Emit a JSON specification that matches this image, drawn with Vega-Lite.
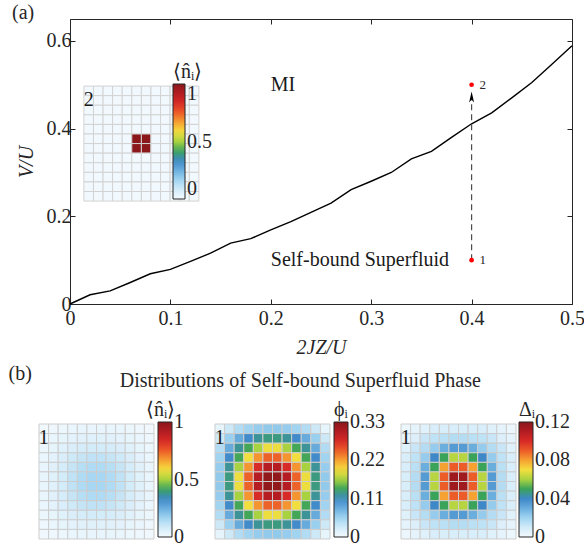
{
"$schema": "https://vega.github.io/schema/vega-lite/v6.json",
"background": "white",
"padding": {"left": 8, "top": 2, "right": 0, "bottom": 4},
"spacing": 7,
"config": {
  "font": "Liberation Serif",
  "view": {"stroke": null},
  "axis": {"labelFont": "Liberation Serif", "titleFont": "Liberation Serif", "labelFontSize": 20, "titleFontSize": 20, "titleFontWeight": "normal", "titleFontStyle": "italic", "labelColor": "#262626", "titleColor": "#262626", "domainColor": "#262626", "tickColor": "#262626", "grid": false, "domainWidth": 1, "tickWidth": 1, "labelFlush": false},
  "legend": {"labelFont": "Liberation Serif", "labelFontSize": 20, "labelColor": "#262626", "titleFont": "Liberation Serif", "titleFontSize": 20, "titleFontWeight": "normal", "titleColor": "#262626", "gradientStrokeColor": "#262626", "gradientStrokeWidth": 1, "labelOffset": 3, "titlePadding": 2, "labelLimit": 300},
  "title": {"font": "Liberation Serif", "fontSize": 20, "fontWeight": "normal", "color": "#262626"}
},
"datasets": {
  "line": [
    {"x":0,"y":0},{"x":0.02,"y":0.021},{"x":0.04,"y":0.03},{"x":0.06,"y":0.049},{"x":0.08,"y":0.069},{"x":0.1,"y":0.079},{"x":0.12,"y":0.097},{"x":0.14,"y":0.116},{"x":0.16,"y":0.139},{"x":0.18,"y":0.149},{"x":0.2,"y":0.169},{"x":0.22,"y":0.188},{"x":0.24,"y":0.209},{"x":0.26,"y":0.23},{"x":0.28,"y":0.261},{"x":0.3,"y":0.28},{"x":0.32,"y":0.3},{"x":0.34,"y":0.331},{"x":0.36,"y":0.348},{"x":0.38,"y":0.38},{"x":0.4,"y":0.411},{"x":0.42,"y":0.436},{"x":0.44,"y":0.47},{"x":0.46,"y":0.505},{"x":0.48,"y":0.547},{"x":0.5,"y":0.589}
  ],
  "pts": [{"x":0.4,"y":0.1,"t":"1"},{"x":0.4,"y":0.5,"t":"2"}],
  "arrow": [{"x":0.4,"y":0.1,"y2":0.474,"yh":0.472}],
  "regions": [{"x":0.2,"y":0.5,"t":"MI"},{"x":0.2,"y":0.1,"t":"Self-bound Superfluid"}],
  "empty": [],
  "grid": [
{"r":0,"c":0,"a":0,"n":0.005,"p":0.01,"d":0.002},{"r":0,"c":1,"a":0,"n":0.01,"p":0.03,"d":0.004},{"r":0,"c":2,"a":0,"n":0.015,"p":0.045,"d":0.006},{"r":0,"c":3,"a":0,"n":0.02,"p":0.055,"d":0.008},{"r":0,"c":4,"a":0,"n":0.025,"p":0.06,"d":0.008},{"r":0,"c":5,"a":0,"n":0.025,"p":0.062,"d":0.008},{"r":0,"c":6,"a":0,"n":0.025,"p":0.062,"d":0.008},{"r":0,"c":7,"a":0,"n":0.025,"p":0.06,"d":0.008},{"r":0,"c":8,"a":0,"n":0.02,"p":0.055,"d":0.008},{"r":0,"c":9,"a":0,"n":0.015,"p":0.045,"d":0.006},{"r":0,"c":10,"a":0,"n":0.01,"p":0.03,"d":0.004},{"r":0,"c":11,"a":0,"n":0.005,"p":0.01,"d":0.002},
{"r":1,"c":0,"a":0,"n":0.01,"p":0.03,"d":0.004},{"r":1,"c":1,"a":0,"n":0.02,"p":0.058,"d":0.007},{"r":1,"c":2,"a":0,"n":0.03,"p":0.085,"d":0.012},{"r":1,"c":3,"a":0,"n":0.04,"p":0.108,"d":0.014},{"r":1,"c":4,"a":0,"n":0.045,"p":0.122,"d":0.015},{"r":1,"c":5,"a":0,"n":0.05,"p":0.128,"d":0.016},{"r":1,"c":6,"a":0,"n":0.05,"p":0.128,"d":0.016},{"r":1,"c":7,"a":0,"n":0.045,"p":0.122,"d":0.015},{"r":1,"c":8,"a":0,"n":0.04,"p":0.108,"d":0.014},{"r":1,"c":9,"a":0,"n":0.03,"p":0.085,"d":0.012},{"r":1,"c":10,"a":0,"n":0.02,"p":0.058,"d":0.007},{"r":1,"c":11,"a":0,"n":0.01,"p":0.03,"d":0.004},
{"r":2,"c":0,"a":0,"n":0.015,"p":0.045,"d":0.006},{"r":2,"c":1,"a":0,"n":0.03,"p":0.085,"d":0.012},{"r":2,"c":2,"a":0,"n":0.05,"p":0.122,"d":0.016},{"r":2,"c":3,"a":0,"n":0.065,"p":0.14,"d":0.022},{"r":2,"c":4,"a":0,"n":0.075,"p":0.165,"d":0.03},{"r":2,"c":5,"a":0,"n":0.08,"p":0.19,"d":0.035},{"r":2,"c":6,"a":0,"n":0.08,"p":0.19,"d":0.035},{"r":2,"c":7,"a":0,"n":0.075,"p":0.165,"d":0.03},{"r":2,"c":8,"a":0,"n":0.065,"p":0.14,"d":0.022},{"r":2,"c":9,"a":0,"n":0.05,"p":0.122,"d":0.016},{"r":2,"c":10,"a":0,"n":0.03,"p":0.085,"d":0.012},{"r":2,"c":11,"a":0,"n":0.015,"p":0.045,"d":0.006},
{"r":3,"c":0,"a":0,"n":0.02,"p":0.055,"d":0.008},{"r":3,"c":1,"a":0,"n":0.04,"p":0.108,"d":0.014},{"r":3,"c":2,"a":0,"n":0.065,"p":0.14,"d":0.022},{"r":3,"c":3,"a":0,"n":0.09,"p":0.192,"d":0.04},{"r":3,"c":4,"a":0,"n":0.105,"p":0.225,"d":0.05},{"r":3,"c":5,"a":0,"n":0.115,"p":0.245,"d":0.062},{"r":3,"c":6,"a":0,"n":0.115,"p":0.245,"d":0.062},{"r":3,"c":7,"a":0,"n":0.105,"p":0.225,"d":0.05},{"r":3,"c":8,"a":0,"n":0.09,"p":0.192,"d":0.04},{"r":3,"c":9,"a":0,"n":0.065,"p":0.14,"d":0.022},{"r":3,"c":10,"a":0,"n":0.04,"p":0.108,"d":0.014},{"r":3,"c":11,"a":0,"n":0.02,"p":0.055,"d":0.008},
{"r":4,"c":0,"a":0,"n":0.025,"p":0.06,"d":0.008},{"r":4,"c":1,"a":0,"n":0.045,"p":0.122,"d":0.015},{"r":4,"c":2,"a":0,"n":0.075,"p":0.165,"d":0.03},{"r":4,"c":3,"a":0,"n":0.105,"p":0.225,"d":0.05},{"r":4,"c":4,"a":0,"n":0.13,"p":0.275,"d":0.08},{"r":4,"c":5,"a":0,"n":0.14,"p":0.3,"d":0.09},{"r":4,"c":6,"a":0,"n":0.14,"p":0.3,"d":0.09},{"r":4,"c":7,"a":0,"n":0.13,"p":0.275,"d":0.08},{"r":4,"c":8,"a":0,"n":0.105,"p":0.225,"d":0.05},{"r":4,"c":9,"a":0,"n":0.075,"p":0.165,"d":0.03},{"r":4,"c":10,"a":0,"n":0.045,"p":0.122,"d":0.015},{"r":4,"c":11,"a":0,"n":0.025,"p":0.06,"d":0.008},
{"r":5,"c":0,"a":0,"n":0.025,"p":0.062,"d":0.008},{"r":5,"c":1,"a":0,"n":0.05,"p":0.128,"d":0.016},{"r":5,"c":2,"a":0,"n":0.08,"p":0.19,"d":0.035},{"r":5,"c":3,"a":0,"n":0.115,"p":0.245,"d":0.062},{"r":5,"c":4,"a":0,"n":0.14,"p":0.3,"d":0.09},{"r":5,"c":5,"a":1,"n":0.155,"p":0.325,"d":0.115},{"r":5,"c":6,"a":1,"n":0.155,"p":0.325,"d":0.115},{"r":5,"c":7,"a":0,"n":0.14,"p":0.3,"d":0.09},{"r":5,"c":8,"a":0,"n":0.115,"p":0.245,"d":0.062},{"r":5,"c":9,"a":0,"n":0.08,"p":0.19,"d":0.035},{"r":5,"c":10,"a":0,"n":0.05,"p":0.128,"d":0.016},{"r":5,"c":11,"a":0,"n":0.025,"p":0.062,"d":0.008},
{"r":6,"c":0,"a":0,"n":0.025,"p":0.062,"d":0.008},{"r":6,"c":1,"a":0,"n":0.05,"p":0.128,"d":0.016},{"r":6,"c":2,"a":0,"n":0.08,"p":0.19,"d":0.035},{"r":6,"c":3,"a":0,"n":0.115,"p":0.245,"d":0.062},{"r":6,"c":4,"a":0,"n":0.14,"p":0.3,"d":0.09},{"r":6,"c":5,"a":1,"n":0.155,"p":0.325,"d":0.115},{"r":6,"c":6,"a":1,"n":0.155,"p":0.325,"d":0.115},{"r":6,"c":7,"a":0,"n":0.14,"p":0.3,"d":0.09},{"r":6,"c":8,"a":0,"n":0.115,"p":0.245,"d":0.062},{"r":6,"c":9,"a":0,"n":0.08,"p":0.19,"d":0.035},{"r":6,"c":10,"a":0,"n":0.05,"p":0.128,"d":0.016},{"r":6,"c":11,"a":0,"n":0.025,"p":0.062,"d":0.008},
{"r":7,"c":0,"a":0,"n":0.025,"p":0.06,"d":0.008},{"r":7,"c":1,"a":0,"n":0.045,"p":0.122,"d":0.015},{"r":7,"c":2,"a":0,"n":0.075,"p":0.165,"d":0.03},{"r":7,"c":3,"a":0,"n":0.105,"p":0.225,"d":0.05},{"r":7,"c":4,"a":0,"n":0.13,"p":0.275,"d":0.08},{"r":7,"c":5,"a":0,"n":0.14,"p":0.3,"d":0.09},{"r":7,"c":6,"a":0,"n":0.14,"p":0.3,"d":0.09},{"r":7,"c":7,"a":0,"n":0.13,"p":0.275,"d":0.08},{"r":7,"c":8,"a":0,"n":0.105,"p":0.225,"d":0.05},{"r":7,"c":9,"a":0,"n":0.075,"p":0.165,"d":0.03},{"r":7,"c":10,"a":0,"n":0.045,"p":0.122,"d":0.015},{"r":7,"c":11,"a":0,"n":0.025,"p":0.06,"d":0.008},
{"r":8,"c":0,"a":0,"n":0.02,"p":0.055,"d":0.008},{"r":8,"c":1,"a":0,"n":0.04,"p":0.108,"d":0.014},{"r":8,"c":2,"a":0,"n":0.065,"p":0.14,"d":0.022},{"r":8,"c":3,"a":0,"n":0.09,"p":0.192,"d":0.04},{"r":8,"c":4,"a":0,"n":0.105,"p":0.225,"d":0.05},{"r":8,"c":5,"a":0,"n":0.115,"p":0.245,"d":0.062},{"r":8,"c":6,"a":0,"n":0.115,"p":0.245,"d":0.062},{"r":8,"c":7,"a":0,"n":0.105,"p":0.225,"d":0.05},{"r":8,"c":8,"a":0,"n":0.09,"p":0.192,"d":0.04},{"r":8,"c":9,"a":0,"n":0.065,"p":0.14,"d":0.022},{"r":8,"c":10,"a":0,"n":0.04,"p":0.108,"d":0.014},{"r":8,"c":11,"a":0,"n":0.02,"p":0.055,"d":0.008},
{"r":9,"c":0,"a":0,"n":0.015,"p":0.045,"d":0.006},{"r":9,"c":1,"a":0,"n":0.03,"p":0.085,"d":0.012},{"r":9,"c":2,"a":0,"n":0.05,"p":0.122,"d":0.016},{"r":9,"c":3,"a":0,"n":0.065,"p":0.14,"d":0.022},{"r":9,"c":4,"a":0,"n":0.075,"p":0.165,"d":0.03},{"r":9,"c":5,"a":0,"n":0.08,"p":0.19,"d":0.035},{"r":9,"c":6,"a":0,"n":0.08,"p":0.19,"d":0.035},{"r":9,"c":7,"a":0,"n":0.075,"p":0.165,"d":0.03},{"r":9,"c":8,"a":0,"n":0.065,"p":0.14,"d":0.022},{"r":9,"c":9,"a":0,"n":0.05,"p":0.122,"d":0.016},{"r":9,"c":10,"a":0,"n":0.03,"p":0.085,"d":0.012},{"r":9,"c":11,"a":0,"n":0.015,"p":0.045,"d":0.006},
{"r":10,"c":0,"a":0,"n":0.01,"p":0.03,"d":0.004},{"r":10,"c":1,"a":0,"n":0.02,"p":0.058,"d":0.007},{"r":10,"c":2,"a":0,"n":0.03,"p":0.085,"d":0.012},{"r":10,"c":3,"a":0,"n":0.04,"p":0.108,"d":0.014},{"r":10,"c":4,"a":0,"n":0.045,"p":0.122,"d":0.015},{"r":10,"c":5,"a":0,"n":0.05,"p":0.128,"d":0.016},{"r":10,"c":6,"a":0,"n":0.05,"p":0.128,"d":0.016},{"r":10,"c":7,"a":0,"n":0.045,"p":0.122,"d":0.015},{"r":10,"c":8,"a":0,"n":0.04,"p":0.108,"d":0.014},{"r":10,"c":9,"a":0,"n":0.03,"p":0.085,"d":0.012},{"r":10,"c":10,"a":0,"n":0.02,"p":0.058,"d":0.007},{"r":10,"c":11,"a":0,"n":0.01,"p":0.03,"d":0.004},
{"r":11,"c":0,"a":0,"n":0.005,"p":0.01,"d":0.002},{"r":11,"c":1,"a":0,"n":0.01,"p":0.03,"d":0.004},{"r":11,"c":2,"a":0,"n":0.015,"p":0.045,"d":0.006},{"r":11,"c":3,"a":0,"n":0.02,"p":0.055,"d":0.008},{"r":11,"c":4,"a":0,"n":0.025,"p":0.06,"d":0.008},{"r":11,"c":5,"a":0,"n":0.025,"p":0.062,"d":0.008},{"r":11,"c":6,"a":0,"n":0.025,"p":0.062,"d":0.008},{"r":11,"c":7,"a":0,"n":0.025,"p":0.06,"d":0.008},{"r":11,"c":8,"a":0,"n":0.02,"p":0.055,"d":0.008},{"r":11,"c":9,"a":0,"n":0.015,"p":0.045,"d":0.006},{"r":11,"c":10,"a":0,"n":0.01,"p":0.03,"d":0.004},{"r":11,"c":11,"a":0,"n":0.005,"p":0.01,"d":0.002}
  ],
  "tag1": [{"c":0,"r":1,"t":"1"}],
  "tag2": [{"c":0,"r":1,"t":"2"}]
},
"vconcat": [
  {
    "bounds": "flush",
    "spacing": 30,
    "hconcat": [
      {"width": 1, "height": 1, "data": {"name": "empty"}, "mark": "point", "encoding": {}},
      {
        "title": {"text": "(a)", "anchor": "start", "frame": "bounds", "dx": -4, "offset": -4},
        "width": 502,
        "height": 285,
        "layer": [
          {"data": {"name": "line"}, "mark": {"type": "line", "color": "black", "strokeWidth": 1.4},
           "encoding": {
             "x": {"field": "x", "type": "quantitative", "scale": {"domain": [0, 0.5], "nice": false}, "axis": {"values": [0, 0.1, 0.2, 0.3, 0.4, 0.5], "format": "~g", "title": "2JZ/U", "tickSize": -5, "labelPadding": 9, "titlePadding": 9}},
             "y": {"field": "y", "type": "quantitative", "scale": {"domain": [0, 0.65], "nice": false}, "axis": {"values": [0, 0.2, 0.4, 0.6], "format": "~g", "title": "V/U", "tickSize": -5, "labelPadding": 4, "titlePadding": 10}}
           }},
          {"data": {"name": "line"}, "mark": {"type": "line", "opacity": 0},
           "encoding": {
             "x": {"field": "x", "type": "quantitative", "scale": {"domain": [0, 0.5], "nice": false}, "axis": {"orient": "top", "labels": false, "title": null, "values": [0, 0.1, 0.2, 0.3, 0.4, 0.5], "tickSize": -5}},
             "y": {"field": "y", "type": "quantitative", "scale": {"domain": [0, 0.65], "nice": false}, "axis": {"orient": "right", "labels": false, "title": null, "values": [0, 0.2, 0.4, 0.6], "tickSize": -5}}
           }},
          {"data": {"name": "arrow"}, "mark": {"type": "rule", "color": "#4d4d4d", "strokeWidth": 1.2, "strokeDash": [6, 4]},
           "encoding": {
             "x": {"field": "x", "type": "quantitative", "scale": {"domain": [0, 0.5], "nice": false}, "axis": null},
             "y": {"field": "y", "type": "quantitative", "scale": {"domain": [0, 0.65], "nice": false}, "axis": null},
             "y2": {"field": "y2"}
           }},
          {"data": {"name": "arrow"}, "mark": {"type": "point", "shape": "M0,-1L0.45,1L0,0.5L-0.45,1Z", "filled": true, "color": "black", "size": 121, "opacity": 1},
           "encoding": {
             "x": {"field": "x", "type": "quantitative", "scale": {"domain": [0, 0.5], "nice": false}, "axis": null},
             "y": {"field": "yh", "type": "quantitative", "scale": {"domain": [0, 0.65], "nice": false}, "axis": null}
           }},
          {"data": {"name": "pts"}, "mark": {"type": "point", "shape": "circle", "filled": true, "color": "#ff0000", "size": 22, "opacity": 1},
           "encoding": {
             "x": {"field": "x", "type": "quantitative", "scale": {"domain": [0, 0.5], "nice": false}, "axis": null},
             "y": {"field": "y", "type": "quantitative", "scale": {"domain": [0, 0.65], "nice": false}, "axis": null}
           }},
          {"data": {"name": "pts"}, "mark": {"type": "text", "align": "left", "baseline": "middle", "dx": 8, "fontSize": 13, "color": "#262626"},
           "encoding": {
             "x": {"field": "x", "type": "quantitative", "scale": {"domain": [0, 0.5], "nice": false}, "axis": null},
             "y": {"field": "y", "type": "quantitative", "scale": {"domain": [0, 0.65], "nice": false}, "axis": null},
             "text": {"field": "t"}
           }},
          {"data": {"name": "regions"}, "mark": {"type": "text", "align": "left", "baseline": "middle", "fontSize": 20, "color": "#1a1a1a"},
           "encoding": {
             "x": {"field": "x", "type": "quantitative", "scale": {"domain": [0, 0.5], "nice": false}, "axis": null},
             "y": {"field": "y", "type": "quantitative", "scale": {"domain": [0, 0.65], "nice": false}, "axis": null},
             "text": {"field": "t"}
           }},
          {"data": {"name": "grid"}, "mark": {"type": "point", "shape": "square", "filled": true, "size": 92, "stroke": "#d2d2d2", "strokeWidth": 1, "opacity": 1},
           "encoding": {
             "x": {"field": "c", "type": "quantitative", "axis": null, "scale": {"domain": [-1.95, 50.44], "nice": false, "zero": false}},
             "y": {"field": "r", "type": "quantitative", "axis": null, "scale": {"domain": [-7.5, 22.24], "nice": false, "zero": false, "reverse": true}},
             "color": {"field": "a", "type": "quantitative",
               "scale": {"domain": [0, 1], "interpolate": "rgb", "range": ["#f2f9fe","#d2ebf9","#a0d4f1","#6aaede","#3e88c8","#3aa35a","#a8d240","#f3df3e","#f6a232","#ec5c28","#d82a26","#b31c22","#8a181b"]},
               "legend": {"title": "⟨n̂ᵢ⟩", "orient": "none", "direction": "vertical", "legendX": 134, "legendY": 43, "gradientLength": 115, "gradientThickness": 12, "values": [0, 0.5, 1], "format": "~g", "titleAnchor": "start", "titleAlign": "left",
                 "encode": {"labels": {"update": {"baseline": {"value": "middle"}}}}}}
           }},
          {"data": {"name": "tag2"}, "mark": {"type": "text", "fontSize": 20, "align": "center", "baseline": "middle", "color": "#1a1a1a"},
           "encoding": {
             "x": {"field": "c", "type": "quantitative", "axis": null, "scale": {"domain": [-1.95, 50.44], "nice": false, "zero": false}},
             "y": {"field": "r", "type": "quantitative", "axis": null, "scale": {"domain": [-7.5, 22.24], "nice": false, "zero": false, "reverse": true}},
             "text": {"field": "t"}
           }}
        ],
        "resolve": {"scale": {"x": "independent", "y": "independent"}, "axis": {"x": "independent", "y": "independent"}}
      }
    ]
  },
  {
    "title": {"text": "(b)", "anchor": "start", "frame": "bounds", "dx": -30, "offset": -13},
    "vconcat": [
      {
        "title": {"text": "Distributions of Self-bound Superfluid Phase", "anchor": "middle", "offset": 9, "dx": -4},
        "spacing": 15,
        "hconcat": [
          {
            "width": 115, "height": 115,
            "layer": [
              {"data": {"name": "grid"}, "mark": {"type": "rect", "stroke": "#cdcdcd", "strokeWidth": 1},
               "encoding": {
                 "x": {"field": "c", "type": "ordinal", "axis": null, "scale": {"paddingInner": 0, "paddingOuter": 0}},
                 "y": {"field": "r", "type": "ordinal", "axis": null, "scale": {"paddingInner": 0, "paddingOuter": 0}},
                 "color": {"field": "n", "type": "quantitative",
                   "scale": {"domain": [0, 1], "interpolate": "rgb", "range": ["#f2f9fe","#d2ebf9","#a0d4f1","#6aaede","#3e88c8","#3aa35a","#a8d240","#f3df3e","#f6a232","#ec5c28","#d82a26","#b31c22","#8a181b"]},
                   "legend": {"title": "⟨n̂ᵢ⟩", "orient": "none", "direction": "vertical", "legendX": 107, "legendY": -24, "gradientLength": 115, "gradientThickness": 14, "values": [0, 0.5, 1], "format": "~g", "titleAnchor": "start", "titleAlign": "left",
                     "encode": {"labels": {"update": {"baseline": {"value": "middle"}}}, "title": {"update": {"dx": {"value": -12}}}}}}
               }},
              {"data": {"name": "tag1"}, "mark": {"type": "text", "fontSize": 20, "align": "center", "baseline": "middle", "color": "#1a1a1a"},
               "encoding": {
                 "x": {"field": "c", "type": "ordinal", "axis": null},
                 "y": {"field": "r", "type": "ordinal", "axis": null},
                 "text": {"field": "t"}
               }}
            ]
          },
          {
            "width": 115, "height": 115,
            "layer": [
              {"data": {"name": "grid"}, "mark": {"type": "rect", "stroke": "#cdcdcd", "strokeWidth": 1},
               "encoding": {
                 "x": {"field": "c", "type": "ordinal", "axis": null, "scale": {"paddingInner": 0, "paddingOuter": 0}},
                 "y": {"field": "r", "type": "ordinal", "axis": null, "scale": {"paddingInner": 0, "paddingOuter": 0}},
                 "color": {"field": "p", "type": "quantitative",
                   "scale": {"domain": [0, 0.33], "interpolate": "rgb", "range": ["#f2f9fe","#d2ebf9","#a0d4f1","#6aaede","#3e88c8","#3aa35a","#a8d240","#f3df3e","#f6a232","#ec5c28","#d82a26","#b31c22","#8a181b"]},
                   "legend": {"title": "ϕᵢ", "orient": "none", "direction": "vertical", "legendX": 119, "legendY": -24, "gradientLength": 115, "gradientThickness": 14, "values": [0, 0.11, 0.22, 0.33], "format": ".2~f", "titleAnchor": "start", "titleAlign": "left",
                     "encode": {"labels": {"update": {"baseline": {"value": "middle"}}}}}}
               }},
              {"data": {"name": "tag1"}, "mark": {"type": "text", "fontSize": 20, "align": "center", "baseline": "middle", "color": "#1a1a1a"},
               "encoding": {
                 "x": {"field": "c", "type": "ordinal", "axis": null},
                 "y": {"field": "r", "type": "ordinal", "axis": null},
                 "text": {"field": "t"}
               }}
            ]
          },
          {
            "width": 115, "height": 115,
            "layer": [
              {"data": {"name": "grid"}, "mark": {"type": "rect", "stroke": "#cdcdcd", "strokeWidth": 1},
               "encoding": {
                 "x": {"field": "c", "type": "ordinal", "axis": null, "scale": {"paddingInner": 0, "paddingOuter": 0}},
                 "y": {"field": "r", "type": "ordinal", "axis": null, "scale": {"paddingInner": 0, "paddingOuter": 0}},
                 "color": {"field": "d", "type": "quantitative",
                   "scale": {"domain": [0, 0.12], "interpolate": "rgb", "range": ["#f2f9fe","#d2ebf9","#a0d4f1","#6aaede","#3e88c8","#3aa35a","#a8d240","#f3df3e","#f6a232","#ec5c28","#d82a26","#b31c22","#8a181b"]},
                   "legend": {"title": "Δᵢ", "orient": "none", "direction": "vertical", "legendX": 118, "legendY": -24, "gradientLength": 115, "gradientThickness": 14, "values": [0, 0.04, 0.08, 0.12], "format": ".2~f", "titleAnchor": "start", "titleAlign": "left",
                     "encode": {"labels": {"update": {"baseline": {"value": "middle"}}}}}}
               }},
              {"data": {"name": "tag1"}, "mark": {"type": "text", "fontSize": 20, "align": "center", "baseline": "middle", "color": "#1a1a1a"},
               "encoding": {
                 "x": {"field": "c", "type": "ordinal", "axis": null},
                 "y": {"field": "r", "type": "ordinal", "axis": null},
                 "text": {"field": "t"}
               }}
            ]
          }
        ],
        "resolve": {"scale": {"color": "independent"}}
      }
    ]
  }
]
}
